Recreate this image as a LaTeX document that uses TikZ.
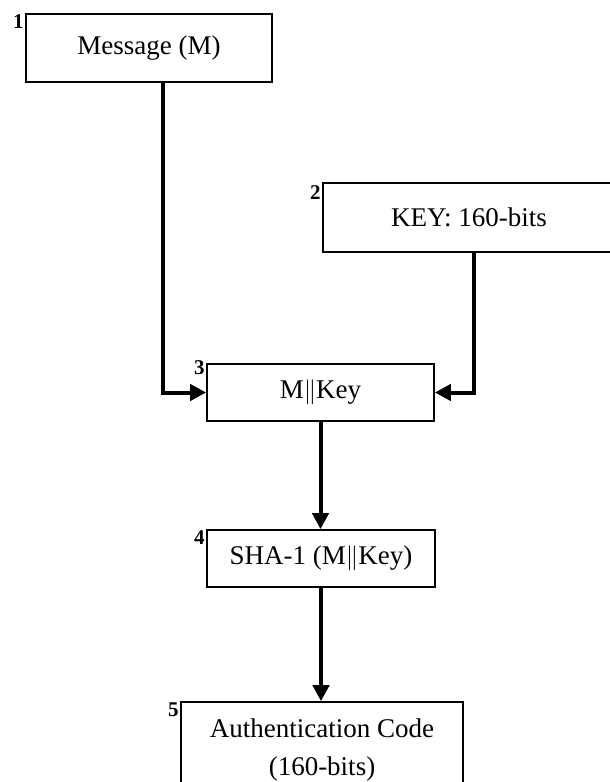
\documentclass[tikz,border=0pt]{standalone}
\usepackage{fontspec}
\setmainfont{Liberation Serif}
\usetikzlibrary{arrows.meta}

\begin{document}
\begin{tikzpicture}[x=1pt,y=-1pt,
  box/.style={draw,line width=1.6pt,inner sep=0pt,align=center,
    font=\fontsize{27}{38}\selectfont},
  num/.style={anchor=north east,inner sep=1.5pt,
    font=\bfseries\fontsize{21}{22}\selectfont},
  flow/.style={line width=4pt,-{Triangle[length=16pt,width=16pt]}}]
  \useasboundingbox (0,0) rectangle (610,782);
  \node[box,minimum width=246,minimum height=68] (msg) at (149,48) {Message (M)};
  \node[box,minimum width=292,minimum height=69] (key) at (469,217.5) {KEY: 160-bits};
  \node[box,minimum width=227,minimum height=57] (concat) at (320.5,392.5) {M$\|$Key};
  \node[box,minimum width=228,minimum height=57] (sha) at (321,558.5) {SHA-1 (M$\|$Key)};
  \node[box,minimum width=282,minimum height=96] (mac) at (322,750) {Authentication Code\\(160-bits)};
  % step numbers
  \node[num] (n1) at (msg.north west) {1};
  \node[num] (n2) at ([yshift=-2pt]key.north west) {2};
  \node[num] (n3) at ([yshift=4pt]concat.north west) {3};
  \node[num] (n4) at (sha.north west) {4};
  \node[num] (n5) at (mac.north west) {5};
  \draw[flow] ([xshift=14pt]msg.south) |- (concat.west);
  \draw[flow] ([xshift=5pt]key.south) |- (concat.east);
  \draw[flow] (concat.south) -- (concat.south |- sha.north);
  \draw[flow] (sha.south) -- (sha.south |- mac.north);
\end{tikzpicture}
\end{document}
